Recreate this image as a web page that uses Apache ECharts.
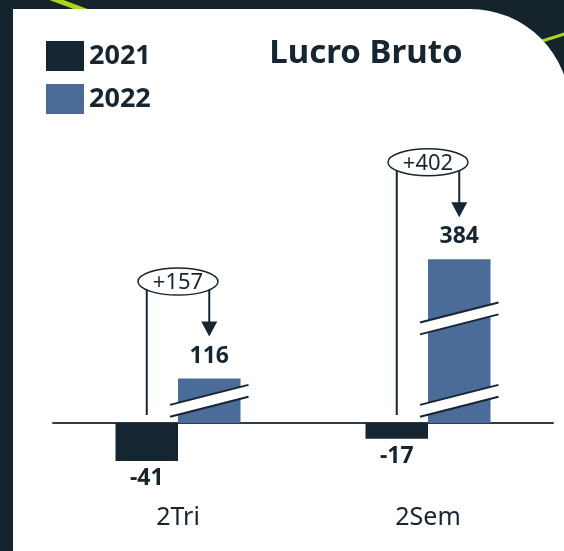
<!DOCTYPE html>
<html>
<head>
<meta charset="utf-8">
<script src="https://cdn.jsdelivr.net/npm/echarts@6.0.0/dist/echarts.min.js"></script>
<style>
  html, body { margin: 0; padding: 0; background: #15232d; }
  #chart { width: 564px; height: 551px; }
</style>
</head>
<body>
<div id="chart"></div>
<script>
// data
const categories = ['2Tri', '2Sem'];
const seriesNames = ['2021', '2022'];
const values2021 = [-41, -17];
const values2022 = [116, 384];
const deltas = [157, 402];

// broken value axis: ranges squeezed out of the 2022 bars
const breaks = [
  { start: 18, end: 98, gap: 12 },
  { start: 175, end: 326, gap: 12 }
];

function compress(v) {
  let c = v;
  breaks.forEach(function (b) {
    if (v > b.end) {
      c -= (b.end - b.start - b.gap);
    } else if (v > b.start) {
      c -= (v - b.start) - (v - b.start) / (b.end - b.start) * b.gap;
    }
  });
  return c;
}

const FONT = 'Noto Sans';
const INK = '#16252f';
const C2021 = '#152632';
const C2022 = '#4b6b99';

const chart = echarts.init(document.getElementById('chart'), null, { renderer: 'canvas' });

function calloutItem(params, api) {
  const i = params.dataIndex;
  const base = api.coord([i, 0]);
  const band = api.size([1, 0])[0];
  const top22 = api.coord([i, compress(values2022[i])])[1];
  const x1 = base[0] - band * 0.125;
  const x2 = base[0] + band * 0.125;
  const cy = top22 - 97;
  const tip = top22 - 42;
  const stroke = { stroke: INK, lineWidth: 2 };
  return {
    type: 'group',
    children: [
      { type: 'line', shape: { x1: x1, y1: cy + 8, x2: x1, y2: base[1] - 8 }, style: stroke },
      { type: 'line', shape: { x1: x2, y1: cy + 8, x2: x2, y2: tip - 14 }, style: stroke },
      { type: 'polygon', shape: { points: [[x2 - 8, tip - 15], [x2 + 8, tip - 15], [x2, tip]] }, style: { fill: INK } },
      { type: 'ellipse', shape: { cx: base[0], cy: cy, rx: 40, ry: 13.5 }, style: { fill: '#fff', stroke: INK, lineWidth: 1.5 } },
      { type: 'text', style: { text: '+' + deltas[i], x: base[0], y: cy + 1, align: 'center', verticalAlign: 'middle',
        fill: INK, fontSize: 22, fontFamily: FONT } }
    ]
  };
}

function breakItem(params, api) {
  const i = params.dataIndex;
  const base = api.coord([i, 0]);
  const band = api.size([1, 0])[0];
  const xL = base[0] - 8;
  const xR = base[0] + band * 0.25 + 8;
  const children = [];
  breaks.forEach(function (b) {
    if (values2022[i] <= b.start) return;
    const yc = api.coord([i, compress(b.start) + b.gap / 2])[1];
    const yL = yc + 10, yR = yc - 10, h = 5.9;
    children.push({ type: 'polygon', shape: { points: [[xL, yL - h], [xR, yR - h], [xR, yR + h], [xL, yL + h]] },
      style: { fill: '#fff' } });
    children.push({ type: 'line', shape: { x1: xL, y1: yL - h, x2: xR, y2: yR - h }, style: { stroke: INK, lineWidth: 2 } });
    children.push({ type: 'line', shape: { x1: xL, y1: yL + h, x2: xR, y2: yR + h }, style: { stroke: INK, lineWidth: 2 } });
  });
  return { type: 'group', children: children };
}

const option = {
  backgroundColor: '#15232d',
  animation: false,
  color: [C2021, C2022],
  textStyle: { fontFamily: FONT },
  graphic: [
    { type: 'line', z: -20, shape: { x1: 35, y1: -8, x2: 110, y2: 20 }, style: { stroke: '#a9d61c', lineWidth: 5 } },
    { type: 'line', z: -20, shape: { x1: 520, y1: 48, x2: 580, y2: 29 }, style: { stroke: '#a9d61c', lineWidth: 3 } },
    { type: 'rect', z: -10, shape: { x: 13, y: 9, width: 557, height: 600, r: [0, 100, 0, 0] }, style: { fill: '#ffffff' } },
    { type: 'text', z: 10, x: 366, y: 54, style: { text: 'Lucro Bruto', align: 'center', verticalAlign: 'middle',
      fill: INK, fontSize: 33, fontWeight: 'bold', fontFamily: FONT } }
  ],
  legend: {
    data: seriesNames,
    orient: 'vertical',
    left: 41,
    top: 36,
    icon: 'rect',
    itemWidth: 38,
    itemHeight: 30,
    itemGap: 13,
    textStyle: { color: INK, fontSize: 27, fontWeight: 'bold', fontFamily: FONT }
  },
  grid: { left: 53, right: 11, top: 145.5, bottom: 35.5, outerBoundsMode: 'none' },
  xAxis: {
    type: 'category',
    data: categories,
    axisTick: { show: false },
    axisLine: { onZero: true, lineStyle: { color: '#2d3c47', width: 2 } },
    axisLabel: { margin: -10, color: INK, fontSize: 25, fontFamily: FONT }
  },
  yAxis: { type: 'value', min: -100, max: 300, show: false, splitLine: { show: false } },
  series: [
    {
      name: seriesNames[0], type: 'bar', barWidth: '25%', barGap: '0%',
      data: values2021.map(compress),
      label: { show: true, position: 'bottom', distance: 6, color: INK, fontSize: 23, fontWeight: 'bold',
        formatter: function (p) { return String(values2021[p.dataIndex]); } }
    },
    {
      name: seriesNames[1], type: 'bar', barWidth: '25%', barGap: '0%',
      data: values2022.map(compress),
      label: { show: true, position: 'top', distance: 11, color: INK, fontSize: 23, fontWeight: 'bold',
        formatter: function (p) { return String(values2022[p.dataIndex]); } }
    },
    { type: 'custom', z: 5, clip: false, silent: true, renderItem: breakItem, data: categories.map(function (c, i) { return i; }) },
    { type: 'custom', z: 5, clip: false, silent: true, renderItem: calloutItem, data: categories.map(function (c, i) { return i; }) }
  ]
};

chart.setOption(option);
</script>
</body>
</html>
